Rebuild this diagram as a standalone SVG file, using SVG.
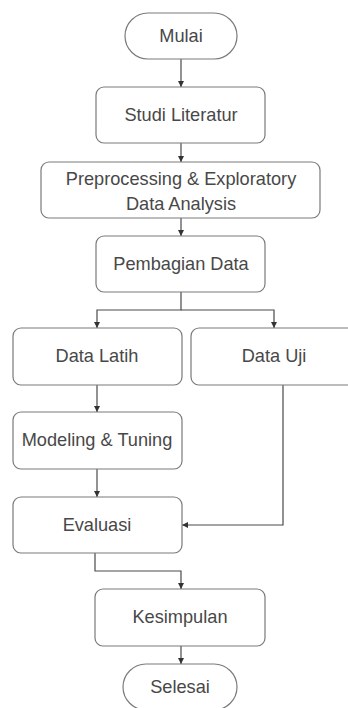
<svg xmlns="http://www.w3.org/2000/svg" width="348" height="708" viewBox="0 0 348 708">
<style>
.box{fill:#ffffff;stroke:#7a7a7a;stroke-width:1.2}
.t{font-family:"Liberation Sans",Arial,sans-serif;font-size:18.2px;fill:#484848;text-anchor:middle}
.c{fill:none;stroke:#4a4a4a;stroke-width:1.2}
</style>
<defs>
<marker id="ah" viewBox="0 0 10 10" refX="10" refY="5" markerWidth="6" markerHeight="6" orient="auto" markerUnits="userSpaceOnUse">
<path d="M0,0 L10,5 L0,10 z" fill="#333333"/>
</marker>
</defs>
<rect width="348" height="708" fill="#ffffff"/>
<g id="connectors">
<path class="c" d="M181,59 V87" marker-end="url(#ah)"/>
<path class="c" d="M181,143 V162" marker-end="url(#ah)"/>
<path class="c" d="M181,218 V236" marker-end="url(#ah)"/>
<path class="c" d="M181,292 V310 H97 V328" marker-end="url(#ah)"/>
<path class="c" d="M181,310 H274 V328" marker-end="url(#ah)"/>
<path class="c" d="M97,385 V412" marker-end="url(#ah)"/>
<path class="c" d="M97,469 V497" marker-end="url(#ah)"/>
<path class="c" d="M283,385 V525 H182" marker-end="url(#ah)"/>
<path class="c" d="M95,553 V571 H181 V589" marker-end="url(#ah)"/>
<path class="c" d="M181,646 V664" marker-end="url(#ah)"/>
</g>
<g id="mulai"><rect class="box" x="125" y="13" width="112" height="46" rx="23"/><text class="t" x="181" y="42">Mulai</text></g>
<g id="studi"><rect class="box" x="96" y="87" width="169" height="56" rx="8"/><text class="t" x="181" y="121">Studi Literatur</text></g>
<g id="preprocessing"><rect class="box" x="41" y="162" width="279" height="56" rx="8"/><text class="t" x="181" y="185">Preprocessing &amp; Exploratory</text><text class="t" x="181" y="210">Data Analysis</text></g>
<g id="pembagian"><rect class="box" x="96" y="236" width="169" height="56" rx="8"/><text class="t" x="181" y="270">Pembagian Data</text></g>
<g id="latih"><rect class="box" x="13" y="328" width="169" height="57" rx="8"/><text class="t" x="97" y="362">Data Latih</text></g>
<g id="uji"><rect class="box" x="191" y="328" width="166" height="57" rx="8"/><text class="t" x="274" y="362">Data Uji</text></g>
<g id="modeling"><rect class="box" x="13" y="412" width="169" height="57" rx="8"/><text class="t" x="97" y="446">Modeling &amp; Tuning</text></g>
<g id="evaluasi"><rect class="box" x="13" y="497" width="169" height="56" rx="8"/><text class="t" x="97" y="531">Evaluasi</text></g>
<g id="kesimpulan"><rect class="box" x="95" y="589" width="170" height="57" rx="8"/><text class="t" x="180" y="623">Kesimpulan</text></g>
<g id="selesai"><rect class="box" x="123" y="664" width="114" height="46" rx="23"/><text class="t" x="180" y="693">Selesai</text></g>
</svg>
